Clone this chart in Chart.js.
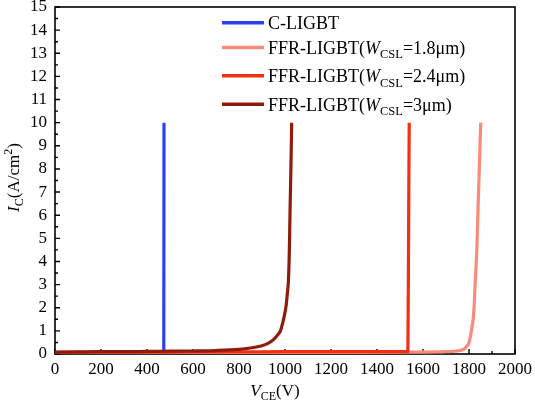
<!DOCTYPE html>
<html>
<head>
<meta charset="utf-8">
<script src="https://cdn.jsdelivr.net/npm/chart.js@4.4.1/dist/chart.umd.min.js"></script>
<style>
html,body{margin:0;padding:0;background:#fff;}
#wrap{width:535px;height:405px;position:relative;}
</style>
</head>
<body>
<div id="wrap"><canvas id="c"></canvas></div>
<script>
// ---- data (V_CE in V, I_C in A/cm^2) ----
const vceC = [0, 100, 200, 300, 400, 470, 473, 474];
const icC  = [0.01, 0.01, 0.01, 0.02, 0.02, 0.02, 0.3, 10];

const vce18 = [0, 400, 800, 1200, 1540, 1700, 1760, 1780, 1792, 1800, 1806, 1812, 1819, 1823, 1827, 1834, 1839, 1845, 1851];
const ic18  = [0.05, 0.05, 0.06, 0.07, 0.08, 0.1, 0.15, 0.22, 0.35, 0.5, 0.75, 1.1, 1.6, 2.2, 3.1, 4.5, 6.2, 8.1, 10];

const vce24 = [0, 200, 400, 600, 800, 1000, 1200, 1400, 1534, 1535, 1536.5, 1538, 1540];
const ic24  = [0.07, 0.08, 0.08, 0.09, 0.09, 0.1, 0.1, 0.1, 0.1, 1.0, 3.5, 6.5, 10];

const vce30 = [0, 100, 200, 300, 400, 500, 600, 700, 800, 850, 900, 930, 950, 970, 980, 990, 1000, 1005, 1010, 1015, 1019, 1022, 1026, 1029];
const ic30  = [0.08, 0.09, 0.1, 0.1, 0.11, 0.12, 0.13, 0.15, 0.2, 0.26, 0.36, 0.48, 0.62, 0.85, 1.0, 1.35, 1.8, 2.1, 2.6, 3.2, 4.5, 6.2, 8.2, 10];

const seriesLabels = ['C-LIGBT', 'FFR-LIGBT(W_CSL=1.8μm)', 'FFR-LIGBT(W_CSL=2.4μm)', 'FFR-LIGBT(W_CSL=3μm)'];
const seriesW = ['', '1.8', '2.4', '3'];
const seriesColors = ['#2b40f5', '#fa8a7a', '#f42e12', '#8e1c0c'];

const xTickValues = [0, 200, 400, 600, 800, 1000, 1200, 1400, 1600, 1800, 2000];
const xMinorValues = [100, 300, 500, 700, 900, 1100, 1300, 1500, 1700, 1900];
const yTickValues = [0, 1, 2, 3, 4, 5, 6, 7, 8, 9, 10, 11, 12, 13, 14, 15];
const yMinorValues = [0.5, 1.5, 2.5, 3.5, 4.5, 5.5, 6.5, 7.5, 8.5, 9.5, 10.5, 11.5, 12.5, 13.5, 14.5];

const SERIF = '"Liberation Serif", "Times New Roman", serif';

function pts(xs, ys) { return xs.map((x, i) => ({x: x, y: ys[i]})); }

const datasets = [
  {label: seriesLabels[0], data: pts(vceC, icC), borderColor: seriesColors[0], order: 4, cubicInterpolationMode: 'default', tension: 0},
  {label: seriesLabels[1], data: pts(vce18, ic18), borderColor: seriesColors[1], order: 3, cubicInterpolationMode: 'monotone'},
  {label: seriesLabels[2], data: pts(vce24, ic24), borderColor: seriesColors[2], order: 2, cubicInterpolationMode: 'monotone'},
  {label: seriesLabels[3], data: pts(vce30, ic30), borderColor: seriesColors[3], order: 1, cubicInterpolationMode: 'monotone'}
].map(d => Object.assign(d, {borderWidth: 3.2, pointRadius: 0, fill: false, borderJoinStyle: 'round', borderCapStyle: 'butt'}));

// rich text helper: parts = [{t, it, sub, sup}]
function richWidth(ctx, parts, size, small) {
  let w = 0;
  parts.forEach(p => {
    const s = (p.sub || p.sup) ? small : size;
    ctx.font = (p.it ? 'italic ' : '') + s + 'px ' + SERIF;
    w += ctx.measureText(p.t).width;
  });
  return w;
}
function drawRich(ctx, parts, x, y, size, small, subOff, supOff) {
  let cx = x;
  parts.forEach(p => {
    const s = (p.sub || p.sup) ? small : size;
    ctx.font = (p.it ? 'italic ' : '') + s + 'px ' + SERIF;
    let dy = 0;
    if (p.sub) dy = subOff;
    if (p.sup) dy = -supOff;
    ctx.fillText(p.t, cx, y + dy);
    cx += ctx.measureText(p.t).width;
  });
}

const decor = {
  id: 'decor',
  beforeDatasetsDraw(chart) {
    const ctx = chart.ctx, a = chart.chartArea;
    const xs = chart.scales.x, ys = chart.scales.y;
    ctx.save();
    ctx.strokeStyle = '#000';
    ctx.lineWidth = 1.6;
    ctx.strokeRect(a.left, a.top, a.right - a.left, a.bottom - a.top);
    ctx.lineWidth = 1.4;
    ctx.beginPath();
    xTickValues.forEach(v => { const px = xs.getPixelForValue(v); ctx.moveTo(px, a.bottom); ctx.lineTo(px, a.bottom - 5); });
    xMinorValues.forEach(v => { const px = xs.getPixelForValue(v); ctx.moveTo(px, a.bottom); ctx.lineTo(px, a.bottom - 3); });
    yTickValues.forEach(v => { const py = ys.getPixelForValue(v); ctx.moveTo(a.left, py); ctx.lineTo(a.left + 5, py); });
    yMinorValues.forEach(v => { const py = ys.getPixelForValue(v); ctx.moveTo(a.left, py); ctx.lineTo(a.left + 3, py); });
    ctx.stroke();
    ctx.restore();
  },
  afterDraw(chart) {
    const ctx = chart.ctx, a = chart.chartArea;
    ctx.save();
    ctx.fillStyle = '#000';
    ctx.textBaseline = 'alphabetic';
    ctx.textAlign = 'left';
    // legend
    const rowY = [22.7, 47.5, 75.8, 104.2];
    seriesLabels.forEach((lab, i) => {
      const y = rowY[i];
      ctx.strokeStyle = seriesColors[i];
      ctx.lineWidth = 3.6;
      ctx.beginPath();
      ctx.moveTo(222, y); ctx.lineTo(264, y);
      ctx.stroke();
      ctx.fillStyle = '#000';
      let parts;
      if (i === 0) parts = [{t: 'C-LIGBT'}];
      else parts = [{t: 'FFR-LIGBT('}, {t: 'W', it: true}, {t: 'CSL', sub: true}, {t: '=' + seriesW[i] + 'μm)'}];
      drawRich(ctx, parts, 268, y + 6.6, 18, 12.5, 4.2, 7);
    });
    // x title
    const xt = [{t: 'V', it: true}, {t: 'CE', sub: true}, {t: '(V)'}];
    const xw = richWidth(ctx, xt, 17, 12);
    drawRich(ctx, xt, 275 - xw / 2, 396, 17, 12, 4, 7);
    // y title (rotated)
    const yt = [{t: 'I', it: true}, {t: 'C', sub: true}, {t: '(A/cm'}, {t: '2', sup: true}, {t: ')'}];
    const yw = richWidth(ctx, yt, 17, 12);
    ctx.translate(19, 177.5);
    ctx.rotate(-Math.PI / 2);
    drawRich(ctx, yt, -yw / 2, 0, 17, 12, 4, 7);
    ctx.restore();
  }
};

new Chart(document.getElementById('c'), {
  type: 'line',
  data: {datasets: datasets},
  options: {
    responsive: true,
    maintainAspectRatio: false,
    animation: false,
    events: [],
    layout: {padding: {left: 0, right: 20, top: 7, bottom: 0}},
    plugins: {legend: {display: false}, tooltip: {enabled: false}},
    scales: {
      x: {
        type: 'linear', min: 0, max: 2000,
        afterBuildTicks(s) { s.ticks = xTickValues.map(v => ({value: v})); },
        afterFit(s) { s.height = 51; s.paddingLeft = 0; s.paddingRight = 0; },
        grid: {display: false, drawTicks: false},
        border: {display: false},
        ticks: {color: '#000', font: {family: SERIF, size: 17}, padding: 5, maxRotation: 0, autoSkip: false,
                callback: v => String(v)}
      },
      y: {
        type: 'linear', min: 0, max: 15,
        afterBuildTicks(s) { s.ticks = yTickValues.map(v => ({value: v})); },
        afterFit(s) { s.width = 55; s.paddingTop = 0; s.paddingBottom = 0; },
        grid: {display: false, drawTicks: false},
        border: {display: false},
        ticks: {color: '#000', font: {family: SERIF, size: 17}, padding: 8, autoSkip: false,
                callback: v => String(v)}
      }
    }
  },
  plugins: [decor]
});
</script>
</body>
</html>
